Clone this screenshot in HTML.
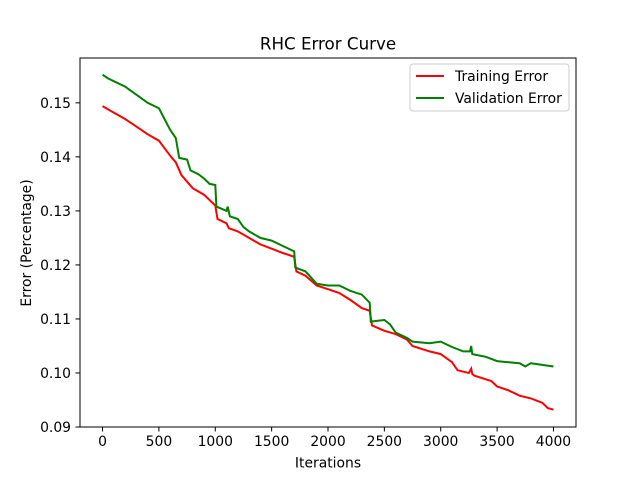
<!DOCTYPE html>
<html><head><meta charset="utf-8"><style>
body{margin:0;background:#fff}
svg text{font-family:"DejaVu Sans","Liberation Sans",sans-serif;fill:#000}
</style></head><body>
<svg id="chart" width="640" height="480" xmlns="http://www.w3.org/2000/svg">
<rect width="640" height="480" fill="#fff"/>
<text x="328" y="49.5" font-size="16.7" text-anchor="middle">RHC Error Curve</text>
<g id="marks"></g>
<rect x="80" y="58" width="496" height="369" fill="none" stroke="#000" stroke-width="1"/>
<g id="axes"></g>
<text x="328" y="467.5" font-size="13.9" text-anchor="middle">Iterations</text>
<text transform="translate(31,243) rotate(-90)" font-size="13.9" text-anchor="middle">Error (Percentage)</text>
<g>
<rect x="410" y="64" width="159" height="47" fill="#fff" stroke="#ccc" rx="3"/>
<line x1="416" y1="76" x2="444" y2="76" stroke="#f00" stroke-width="2"/>
<text x="455" y="81" font-size="13.9">Training Error</text>
<line x1="416" y1="98" x2="444" y2="98" stroke="#008000" stroke-width="2"/>
<text x="455" y="103" font-size="13.9">Validation Error</text>
</g>
</svg>
<script>
const trainX=[0,100,200,300,400,500,600,650,700,800,900,1000,1020,1100,1120,1200,1300,1400,1500,1600,1700,1720,1800,1900,2000,2100,2200,2300,2370,2390,2500,2600,2700,2750,2900,3000,3100,3150,3250,3270,3280,3300,3450,3500,3600,3700,3800,3900,3950,4000];
const trainY=[0.1494,0.1482,0.1470,0.1456,0.1442,0.1430,0.1402,0.1390,0.1366,0.1342,0.1330,0.1310,0.1285,0.1277,0.1268,0.1262,0.1250,0.1238,0.1230,0.1222,0.1215,0.1188,0.1180,0.1162,0.1155,0.1148,0.1135,0.1120,0.1115,0.1088,0.1078,0.1072,0.1062,0.1050,0.1040,0.1035,0.1020,0.1005,0.1000,0.1008,0.0998,0.0995,0.0985,0.0975,0.0968,0.0958,0.0953,0.0945,0.0935,0.0932];
const valX=[0,50,100,200,300,400,500,550,600,650,680,750,780,850,900,950,1000,1010,1100,1110,1130,1200,1250,1300,1400,1500,1600,1700,1710,1800,1900,2000,2100,2200,2300,2370,2380,2500,2550,2600,2700,2750,2900,3000,3100,3200,3260,3270,3280,3400,3500,3600,3700,3750,3800,3900,4000];
const valY=[0.1552,0.1545,0.1540,0.1530,0.1515,0.1500,0.1490,0.1470,0.1450,0.1435,0.1398,0.1395,0.1375,0.1368,0.1360,0.1350,0.1348,0.1308,0.1300,0.1308,0.1290,0.1285,0.1270,0.1262,0.1250,0.1245,0.1235,0.1225,0.1195,0.1188,0.1165,0.1162,0.1162,0.1152,0.1145,0.1130,0.1095,0.1098,0.1090,0.1075,0.1065,0.1058,0.1055,0.1058,0.1048,0.1040,0.1040,0.1050,0.1035,0.1030,0.1022,0.1020,0.1018,0.1012,0.1018,0.1015,0.1012];
const xTicks=[0,500,1000,1500,2000,2500,3000,3500,4000];
const yTicks=[0.09,0.10,0.11,0.12,0.13,0.14,0.15];
const NS="http://www.w3.org/2000/svg";
const sx=v=>80+(v+200)/4400*496;
const sy=v=>427-(v-0.09)/(0.1583-0.09)*369;
const marks=document.getElementById('marks'),axes=document.getElementById('axes');
function line(xs,ys,color,name){
  const p=document.createElementNS(NS,'polyline');
  p.setAttribute('points',xs.map((x,i)=>sx(x).toFixed(1)+','+sy(ys[i]).toFixed(1)).join(' '));
  p.setAttribute('fill','none');p.setAttribute('stroke',color);p.setAttribute('stroke-width','2');
  
  
  marks.appendChild(p);
}
line(trainX,trainY,'#f00','training-error-line');
line(valX,valY,'#008000','validation-error-line');
xTicks.forEach(t=>{
  const x=sx(t);
  const l=document.createElementNS(NS,'line');
  l.setAttribute('x1',x);l.setAttribute('x2',x);l.setAttribute('y1',427);l.setAttribute('y2',431.5);l.setAttribute('stroke','#000');
  
  
  axes.appendChild(l);
  const tx=document.createElementNS(NS,'text');
  tx.setAttribute('x',x);tx.setAttribute('y',446);tx.setAttribute('font-size','13.9');tx.setAttribute('text-anchor','middle');
  tx.textContent=t;
  
  
  axes.appendChild(tx);
});
yTicks.forEach(t=>{
  const y=sy(t);
  const l=document.createElementNS(NS,'line');
  l.setAttribute('x1',75.5);l.setAttribute('x2',80);l.setAttribute('y1',y);l.setAttribute('y2',y);l.setAttribute('stroke','#000');
  
  
  axes.appendChild(l);
  const tx=document.createElementNS(NS,'text');
  tx.setAttribute('x',71);tx.setAttribute('y',y+5);tx.setAttribute('font-size','13.9');tx.setAttribute('text-anchor','end');
  tx.textContent=t.toFixed(2);
  
  
  axes.appendChild(tx);
});
</script>
</body></html>
